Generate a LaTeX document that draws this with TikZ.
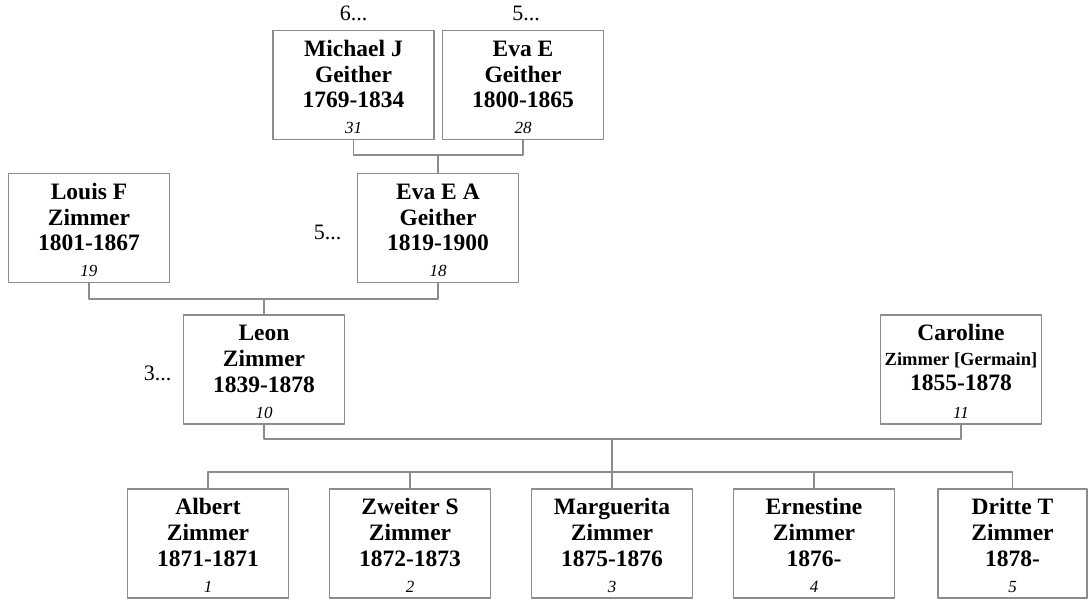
\documentclass[tikz,border=0pt]{standalone}
\usepackage{fontspec}
\setmainfont{Liberation Serif}
\usetikzlibrary{positioning}
\newcommand{\who}[4]{\rule{0pt}{20pt}#1\\#2\\#3\\{\fontsize{17}{20}\selectfont\mdseries\itshape #4}}
\begin{document}
\begin{tikzpicture}[x=1pt,y=-1pt,line cap=round,line join=round,
	person/.style={draw=gray!90,line width=1.2pt,minimum width=161pt,minimum height=109pt,inner sep=0pt,align=center,font=\fontsize{23.5}{25.8}\selectfont\bfseries},
	link/.style={draw=gray!90,line width=1.2pt},
	more/.style={font=\fontsize{22}{24}\selectfont}]
	\useasboundingbox (0,0) rectangle (1088,599);
	% grandparents
	\node[person] (mj) at (353.5,85) {\who{Michael J}{Geither}{1769-1834}{31}};
	\node[person] (ee) at (523,85) {\who{Eva E}{Geither}{1800-1865}{28}};
	\node[more,above=6pt of mj] (mjmore) {6...};
	\node[more,above=6pt of ee,xshift=3pt] (eemore) {5...};
	% parents of Leon
	\node[person] (lf) at (89,228) {\who{Louis F}{Zimmer}{1801-1867}{19}};
	\node[person] (eea) at (438,228) {\who{Eva E A}{Geither}{1819-1900}{18}};
	\node[more,left=12pt of eea,yshift=-4pt] (eeamore) {5...};
	% couple
	\node[person] (lz) at (264,369.5) {\who{Leon}{Zimmer}{1839-1878}{10}};
	\node[more,left=8pt of lz,yshift=-3.5pt] (lzmore) {3...};
	\node[person] (cz) at (961,369.5) {\rule{0pt}{20pt}Caroline\\[-1pt]{\fontsize{18.5}{20}\selectfont Zimmer [Germain]}\\[0pt]1855-1878\\[2pt]{\fontsize{17}{20}\selectfont\mdseries\itshape 11}};
	% children
	\foreach \i/\x/\w/\first/\dates in {1/208/161/Albert/1871-1871,2/410/161/Zweiter S/1872-1873,3/612/161/Marguerita/1875-1876,4/814/161/Ernestine/1876-,5/1012.5/149/Dritte T/1878-}
	\node[person,minimum width=\w pt] (k\i) at (\x,543.5) {\who{\first}{Zimmer}{\dates}{\i}};
	% connectors
	\coordinate (p1) at (438,155);
	\draw[link] (mj.south) |- (p1) -| (ee.south);
	\draw[link] (p1) -- (eea.north);
	\coordinate (p2) at (264,299);
	\draw[link] (lf.south) |- (p2) -| (eea.south);
	\draw[link] (p2) -- (lz.north);
	\coordinate (p3) at (612,439);
	\coordinate (kids) at (612,472);
	\draw[link] (lz.south) |- (p3) -| (cz.south);
	\draw[link] (p3) -- (kids);
	\draw[link] (k1.north) |- (kids) -| (k5.north);
	\foreach \i in {2,3,4}
	\draw[link] (k\i.north) -- (k\i.north |- kids);
\end{tikzpicture}
\end{document}
